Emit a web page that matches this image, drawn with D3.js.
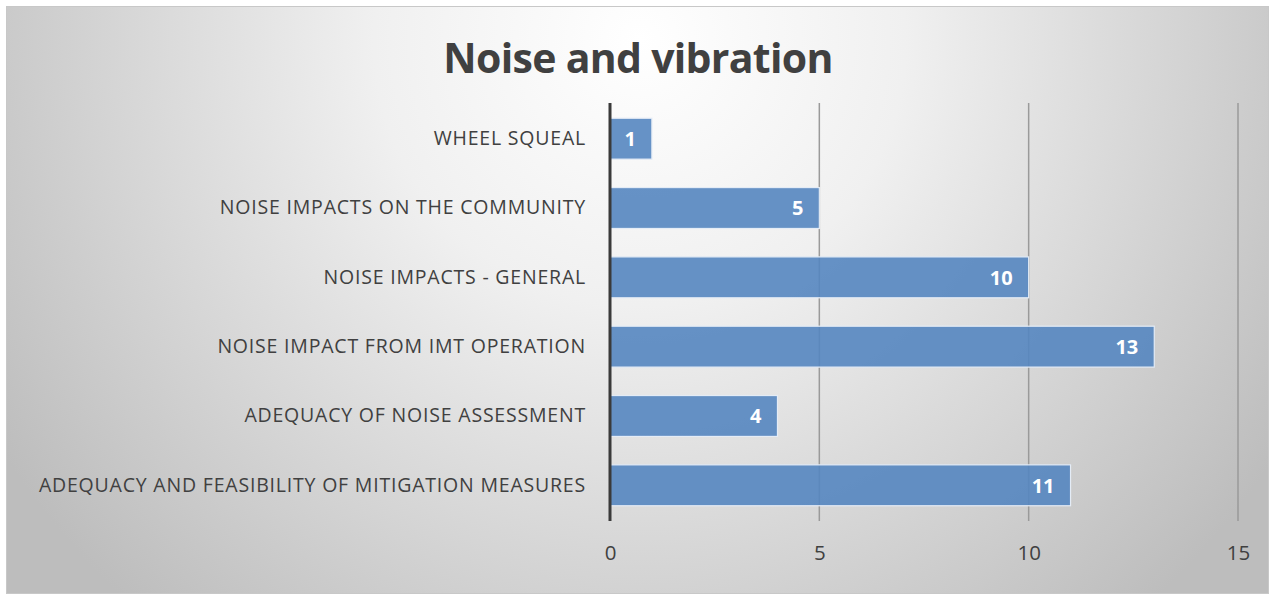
<!DOCTYPE html>
<html>
<head>
<meta charset="utf-8">
<script src="https://cdn.jsdelivr.net/npm/d3@7"></script>
<style>
  body { margin: 0; background: #fff; }
  text { font-family: "Open Sans", "Noto Sans", sans-serif; }
</style>
</head>
<body>
<div id="chart"></div>
<script>
// Daten
const categories = [
    "WHEEL SQUEAL",
    "NOISE IMPACTS ON THE COMMUNITY",
    "NOISE IMPACTS - GENERAL",
    "NOISE IMPACT FROM IMT OPERATION",
    "ADEQUACY OF NOISE ASSESSMENT",
    "ADEQUACY AND FEASIBILITY OF MITIGATION MEASURES"
]
const counts = [1, 5, 10, 13, 4, 11]
const tickValues = [0, 5, 10, 15]
const title = "Noise and vibration"

const W = 1269, H = 594
const margin = {top: 103, right: 31, bottom: 73, left: 610}
const width = W - margin.left - margin.right
const height = H - margin.top - margin.bottom

const data = categories.map(function (c, i) {
    return {name: c, value: counts[i]}
})

let svg = d3.select("#chart")
    .append("svg")
    .attr("width", W)
    .attr("height", H)

// Hintergrund
const defs = svg.append("defs")
const grad = defs.append("radialGradient")
    .attr("id", "bg")
    .attr("gradientUnits", "userSpaceOnUse")
    .attr("cx", 640).attr("cy", 40)
    .attr("r", 760)
grad.append("stop").attr("offset", "0%").attr("stop-color", "#ffffff")
grad.append("stop").attr("offset", "35%").attr("stop-color", "#f0f0f0")
grad.append("stop").attr("offset", "100%").attr("stop-color", "#bdbdbd")

svg.append("rect")
    .attr("x", 6.5).attr("y", 6.5)
    .attr("width", W - 7).attr("height", H - 7)
    .attr("fill", "url(#bg)")
    .attr("stroke", "#c8c8c8")
    .attr("stroke-width", 1)

svg.append("text")
    .attr("x", 638)
    .attr("y", 73)
    .attr("text-anchor", "middle")
    .attr("font-size", 41)
    .attr("font-weight", "bold")
    .attr("letter-spacing", -0.7)
    .attr("fill", "#404040")
    .text(title)

var x = d3.scaleLinear()
    .range([0, width])
    .domain([0, 15])

var y = d3.scaleBand()
    .range([0, height])
    .paddingInner(0.41)
    .paddingOuter(0.22)
    .domain(categories)

var g = svg.append("g")
    .attr("transform", "translate(" + margin.left + "," + margin.top + ")")

// Gitterlinien
g.selectAll(".grid")
    .data(tickValues.slice(1))
    .enter().append("line")
    .attr("class", "grid")
    .attr("x1", function (d) { return x(d) })
    .attr("x2", function (d) { return x(d) })
    .attr("y1", 0)
    .attr("y2", height)
    .attr("stroke", "#9a9a9a")
    .attr("stroke-width", 1.5)

// x-Achse
const xAxis = g.append("g")
    .attr("transform", "translate(0," + height + ")")
    .call(d3.axisBottom(x).tickValues(tickValues).tickSize(0).tickPadding(24))
xAxis.select(".domain").remove()
xAxis.selectAll("text")
    .attr("font-size", 20.5)
    .attr("fill", "#404040")
    .style("font-family", "\"Open Sans\", sans-serif")

// Balken
g.selectAll(".bar")
    .data(data)
    .enter().append("rect")
    .attr("class", "bar")
    .attr("x", 0)
    .attr("y", function (d) { return y(d.name) })
    .attr("width", function (d) { return x(d.value) })
    .attr("height", y.bandwidth())
    .attr("fill", "#5586c0")
    .attr("fill-opacity", 0.9)
    .attr("stroke", "#e4ecf6")
    .attr("stroke-width", 1.2)

// Werte
g.selectAll(".val")
    .data(data)
    .enter().append("text")
    .attr("class", "val")
    .attr("x", function (d) { return x(d.value) - 16 })
    .attr("y", function (d) { return y(d.name) + y.bandwidth() / 2 })
    .attr("dy", "0.36em")
    .attr("text-anchor", "end")
    .attr("font-size", 20)
    .attr("font-weight", "bold")
    .attr("fill", "#ffffff")
    .text(function (d) { return d.value })

// y-Achse
const yAxis = g.append("g")
    .call(d3.axisLeft(y).tickSize(0).tickPadding(24))
yAxis.select(".domain").remove()
yAxis.selectAll("text")
    .attr("font-size", 19.5)
    .attr("letter-spacing", 0.8)
    .attr("fill", "#404040")
    .style("font-family", "\"Open Sans\", sans-serif")

g.append("line")
    .attr("x1", 0).attr("x2", 0)
    .attr("y1", 0).attr("y2", height)
    .attr("stroke", "#3a3a3a")
    .attr("stroke-width", 3)
</script>
</body>
</html>
